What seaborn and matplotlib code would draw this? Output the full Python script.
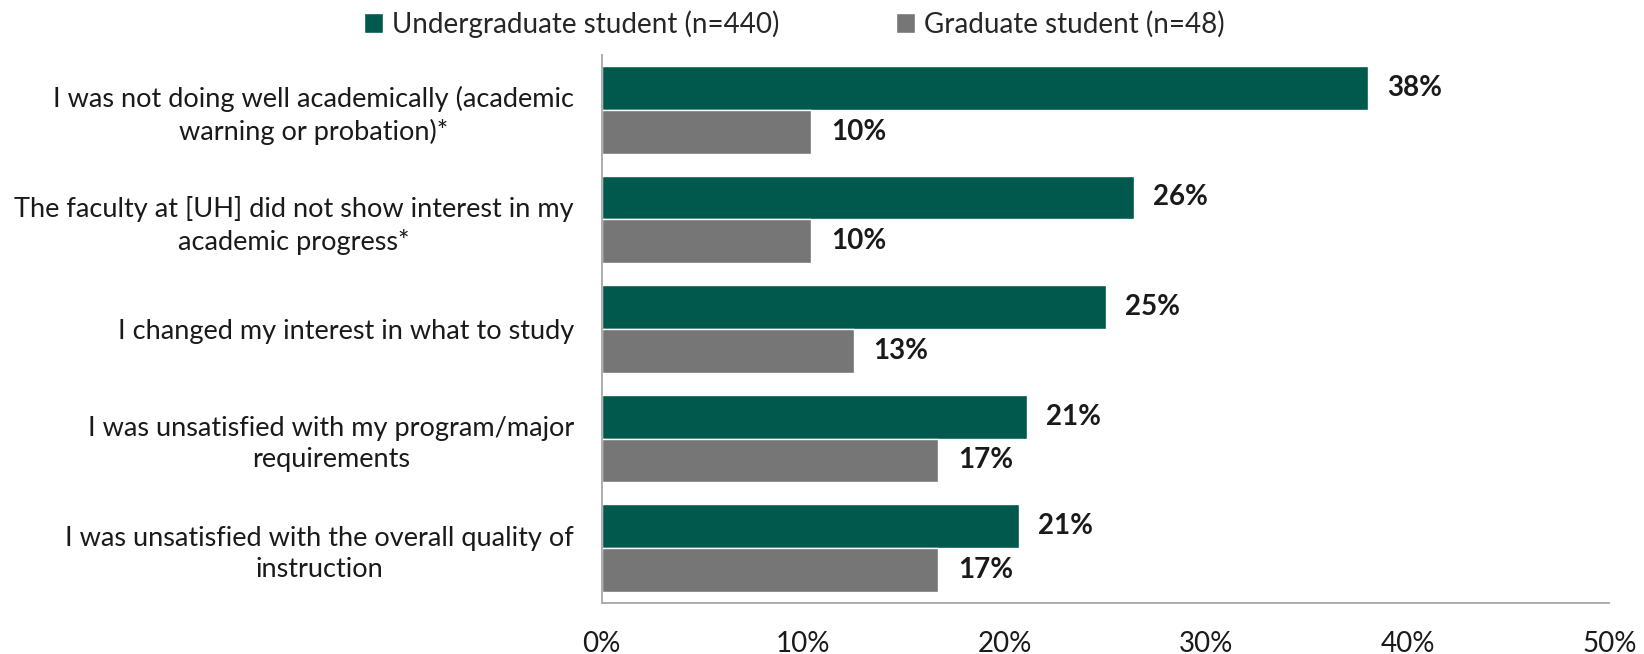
import matplotlib
matplotlib.use("Agg")
import matplotlib.pyplot as plt
import seaborn as sns
import pandas as pd

categories = [
    "I was not doing well academically (academic\nwarning or probation)*",
    "The faculty at [UH] did not show interest in my\nacademic progress*",
    "I changed my interest in what to study",
    "I was unsatisfied with my program/major\nrequirements",
    "I was unsatisfied with the overall quality of\ninstruction",
]
groups = ["Undergraduate student (n=440)", "Graduate student (n=48)"]
undergrad = [38.0, 26.4, 25.0, 21.1, 20.7]
graduate = [10.4, 10.4, 12.5, 16.7, 16.7]
xticks = [0, 10, 20, 30, 40, 50]
colors = ["#00594C", "#767676"]

df = pd.DataFrame({
    "reason": categories * 2,
    "group": [groups[0]] * len(categories) + [groups[1]] * len(categories),
    "pct": undergrad + graduate,
})

sns.set_theme(style="white")
plt.rcParams["font.family"] = ["Lato", "DejaVu Sans"]

fig, ax = plt.subplots(figsize=(16.44, 6.54), dpi=100)
fig.subplots_adjust(left=0.366, right=0.979, top=0.916, bottom=0.078)

sns.barplot(data=df, y="reason", x="pct", hue="group", order=categories,
            hue_order=groups, palette=colors, orient="h", width=0.8,
            saturation=1, ax=ax, legend=True)

for container in ax.containers:
    # round half up so 12.5 reads as 13%
    ax.bar_label(container,
                 labels=[f"{int(v + 0.5)}%" for v in container.datavalues],
                 padding=14, fontsize=20, fontweight="bold", color="#1a1a1a")

ax.set_xlim(0, 50)
ax.set_ylim(4.5, -0.5)
ax.set_xticks(xticks)
ax.set_xticklabels([f"{t}%" for t in xticks], fontsize=20, color="#1a1a1a")
ax.set_xlabel("")
ax.set_ylabel("")
ax.tick_params(axis="x", length=0, pad=20)
ax.tick_params(axis="y", length=0, pad=20, labelsize=19.5, labelcolor="#1a1a1a")
for lbl in ax.get_yticklabels():
    lbl.set_multialignment("center")
    lbl.set_linespacing(1.32)

for side in ["top", "right"]:
    ax.spines[side].set_visible(False)
for side in ["left", "bottom"]:
    ax.spines[side].set_color("#a6a6a6")
    ax.spines[side].set_linewidth(1.3)

handles, labels = ax.get_legend_handles_labels()
ax.get_legend().remove()
fig.legend(handles, labels, loc="upper center", bbox_to_anchor=(0.483, 1.023),
           ncol=2, frameon=False, fontsize=20, handlelength=0.7,
           handleheight=0.7, handletextpad=0.3, columnspacing=4.2)

fig.savefig("out.png", dpi=100)
